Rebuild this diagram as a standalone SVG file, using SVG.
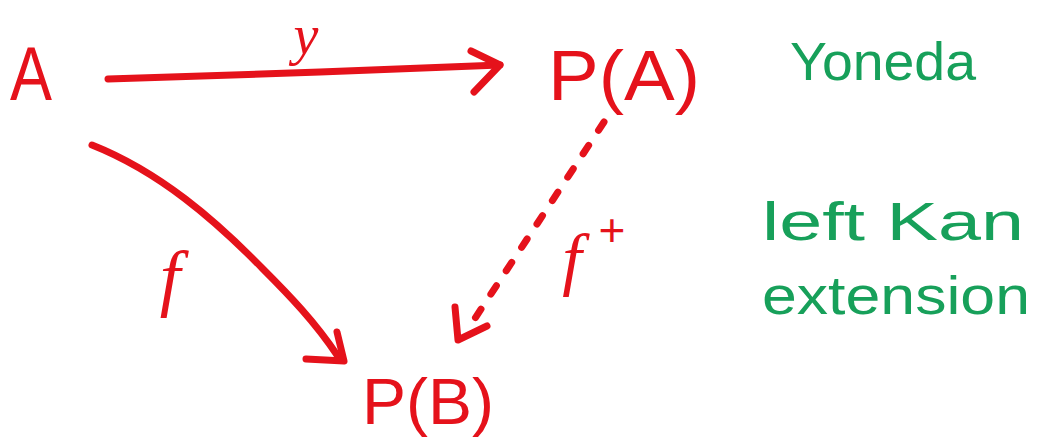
<svg xmlns="http://www.w3.org/2000/svg" width="1048" height="443" viewBox="0 0 1048 443">
<style>
.r{fill:#e5121b;font-family:"Liberation Sans",Arial,sans-serif}
.ri{fill:#e5121b;font-family:"Liberation Serif","Times New Roman",serif;font-style:italic}
.g{fill:#17a05a;font-family:"Liberation Sans",Arial,sans-serif}
.ln{fill:none;stroke:#e5121b;stroke-width:7;stroke-linecap:round;stroke-linejoin:round}
</style>
<rect width="1048" height="443" fill="#ffffff"/>
<g id="connectors">
<g id="arrow-y">
<path class="ln" d="M108,79 C220,76 380,70 500,65"/>
<path class="ln" d="M471,51 L500,65 L474,92"/>
</g>
<g id="arrow-f">
<path class="ln" d="M92,145 C160,172 215,220 262,268 C290,296 315,322 337,355"/>
<path class="ln" d="M337,332 L344,361 L306,359"/>
</g>
<g id="arrow-fplus">
<path class="ln" stroke-dasharray="10 18" d="M604,122 L466,332"/>
<path class="ln" d="M455,307 L458,340 L487,326"/>
</g>
</g>
<g id="node-A"><text class="r" x="10" y="100" font-size="76" textLength="42" lengthAdjust="spacingAndGlyphs">A</text></g>
<g id="node-PA"><text class="r" x="548" y="100" font-size="70" textLength="152" lengthAdjust="spacingAndGlyphs">P(A)</text></g>
<g id="node-PB"><text class="r" x="362" y="424" font-size="64" textLength="132" lengthAdjust="spacingAndGlyphs">P(B)</text></g>
<g id="label-y"><text class="ri" x="306" y="54" font-size="56" text-anchor="middle">y</text></g>
<g id="label-f"><text class="ri" x="170" y="302" font-size="74" text-anchor="middle">f</text></g>
<g id="label-fplus"><text class="ri" x="572" y="282" font-size="70" text-anchor="middle">f</text><text class="r" x="612" y="246" font-size="46" text-anchor="middle">+</text></g>
<g id="note-yoneda"><text class="g" x="790" y="80" font-size="54" textLength="186" lengthAdjust="spacingAndGlyphs">Yoneda</text></g>
<g id="note-kan"><text class="g" x="762" y="240" font-size="54" textLength="262" lengthAdjust="spacingAndGlyphs">left Kan</text><text class="g" x="762" y="314" font-size="54" textLength="268" lengthAdjust="spacingAndGlyphs">extension</text></g>
</svg>
